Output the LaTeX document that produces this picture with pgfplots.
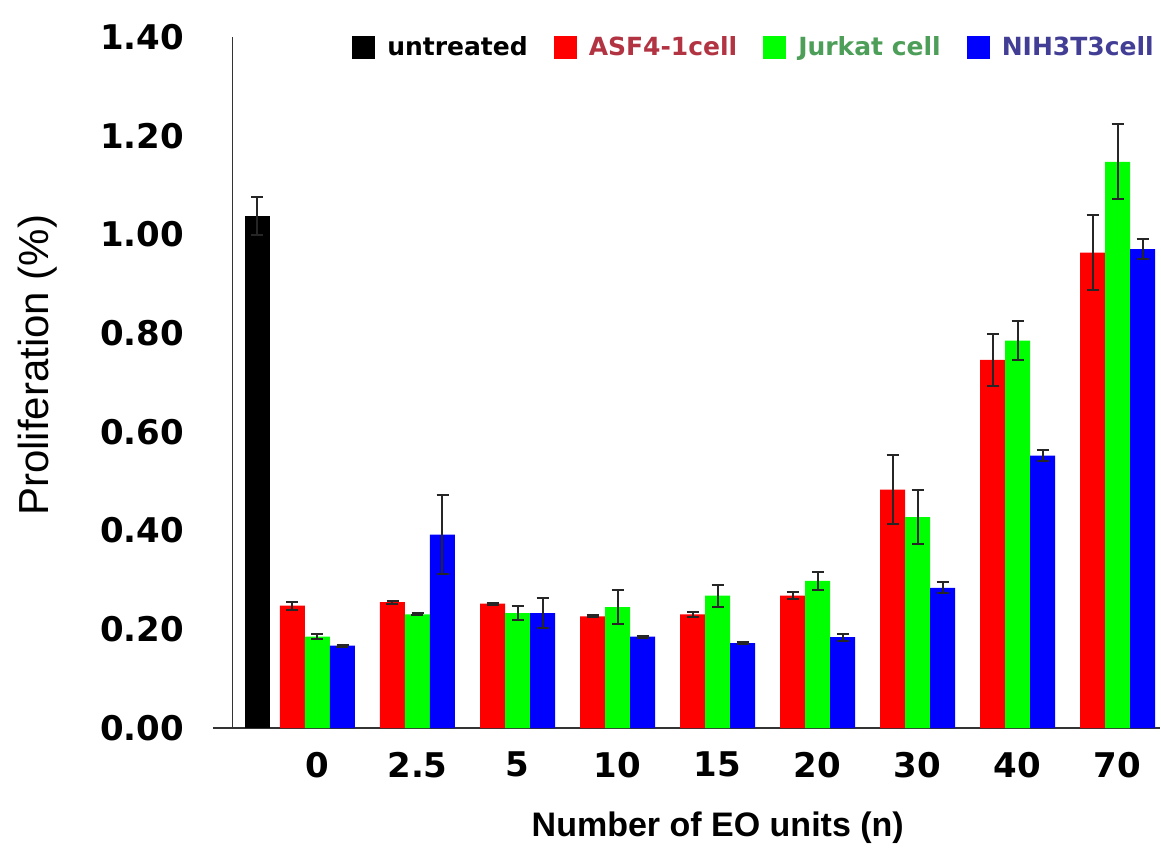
\documentclass[border=0pt]{standalone}
\usepackage{fontspec}
\setmainfont{Liberation Sans}
\newfontfamily\dv{DejaVu Sans}
\usepackage{pgfplots}
\pgfplotsset{compat=1.18}
\definecolor{asfT}{RGB}{178,52,66}
\definecolor{jurT}{RGB}{76,158,88}
\definecolor{nihT}{RGB}{66,62,150}
\begin{document}
\begin{tikzpicture}
\begin{axis}[
 name=ax,
 scale only axis, width=473.5pt, height=345.5pt,
 xmin=-1.045, xmax=8.425, ymin=0, ymax=1.4,
 axis x line=bottom, axis y line=left,
 axis line style={-, line width=0.9pt, black!80},
 y axis line style={draw=none},
 major tick length=0pt,
 xtick={0,1,2,3,4,5,6,7,8},
 xticklabels={0,2.5,5,10,15,20,30,40,70},
 ytick={0,0.2,0.4,0.6,0.8,1.0,1.2,1.4},
 yticklabels={0.00,0.20,0.40,0.60,0.80,1.00,1.20,1.40},
 ticklabel style={font=\dv\bfseries\fontsize{17pt}{20pt}\selectfont},
 xticklabel style={yshift=-8.5pt},
 yticklabel style={xshift=-11pt},
 xlabel={Number of EO units (n)},
 xlabel style={font=\bfseries\fontsize{17pt}{20pt}\selectfont, at={(rel axis cs:0.533,-0.145)}, anchor=center},
 ylabel={Proliferation (\%)},
 ylabel style={font=\fontsize{21pt}{24pt}\selectfont, at={(rel axis cs:-0.185,0.525)}, anchor=center},
 legend columns=4,
 legend style={at={(rel axis cs:0.998,0.9855)}, anchor=east, draw=none, fill=none, inner sep=0pt,
   font=\dv\bfseries\fontsize{12.5pt}{15pt}\selectfont,
   /tikz/every even column/.append style={column sep=11pt}},
 legend image code/.code={\fill[#1] (0pt,-5.75pt) rectangle (11.5pt,5.75pt); \path (15.5pt,0pt);},
 clip=false,
 every axis plot/.append style={ybar, bar width=0.25, bar shift=0pt, draw=none,
   error bars/y dir=both, error bars/y explicit,
   error bars/error bar style={line width=1pt, black!85},
   error bars/error mark options={rotate=90, mark size=3pt, line width=1pt, black!85}},
]
\addplot[fill=black] coordinates {(-0.6,1.037) +- (0,0.038)};
\addlegendentry{untreated}
\addplot[fill=red] coordinates {
 (-0.25,0.248) +- (0,0.008)
 (0.75,0.255) +- (0,0.003)
 (1.75,0.252) +- (0,0.002)
 (2.75,0.226) +- (0,0.002)
 (3.75,0.230) +- (0,0.006)
 (4.75,0.268) +- (0,0.007)
 (5.75,0.483) +- (0,0.070)
 (6.75,0.746) +- (0,0.053)
 (7.75,0.963) +- (0,0.076)
};
\addlegendentry{\textcolor{asfT}{ASF4-1cell}}
\addplot[fill=green] coordinates {
 (0,0.185) +- (0,0.005)
 (1,0.230) +- (0,0.002)
 (2,0.233) +- (0,0.015)
 (3,0.245) +- (0,0.035)
 (4,0.268) +- (0,0.022)
 (5,0.298) +- (0,0.018)
 (6,0.427) +- (0,0.055)
 (7,0.785) +- (0,0.040)
 (8,1.147) +- (0,0.076)
};
\addlegendentry{\textcolor{jurT}{Jurkat cell}}
\addplot[fill=blue] coordinates {
 (0.25,0.167) +- (0,0.002)
 (1.25,0.392) +- (0,0.080)
 (2.25,0.233) +- (0,0.030)
 (3.25,0.185) +- (0,0.002)
 (4.25,0.172) +- (0,0.002)
 (5.25,0.184) +- (0,0.007)
 (6.25,0.284) +- (0,0.011)
 (7.25,0.552) +- (0,0.012)
 (8.25,0.970) +- (0,0.020)
};
\addlegendentry{\textcolor{nihT}{NIH3T3cell}}
\draw[line width=0.9pt, black!80] (axis cs:-0.85,0) -- (axis cs:-0.85,1.4);
\end{axis}
\path (ax.south west) ++(-106.5pt,-62pt) coordinate (bbsw);
\path (ax.north east) ++(0.5pt,18.5pt) coordinate (bbne);
\path (bbsw) rectangle (bbne);
\end{tikzpicture}
\end{document}
